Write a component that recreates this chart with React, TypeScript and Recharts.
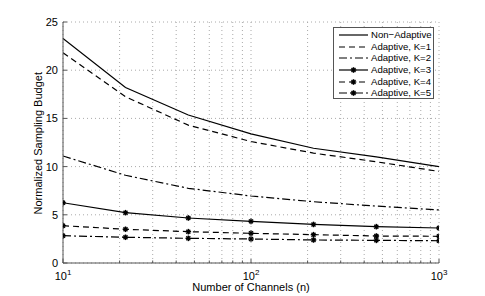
import React from "react";
import { CartesianGrid, Line, LineChart, XAxis, YAxis } from "recharts";

const channels = [10, 21.5, 46.4, 100, 215, 464, 1000];
const nonAdaptive = [23.3, 18.2, 15.35, 13.4, 11.9, 11.0, 10.0];
const adaptiveK1 = [21.8, 17.25, 14.3, 12.6, 11.4, 10.5, 9.5];
const adaptiveK2 = [11.1, 9.1, 7.75, 6.95, 6.36, 5.9, 5.5];
const adaptiveK3 = [6.25, 5.22, 4.67, 4.32, 4.0, 3.77, 3.63];
const adaptiveK4 = [3.87, 3.5, 3.25, 3.08, 2.94, 2.8, 2.77];
const adaptiveK5 = [2.83, 2.67, 2.56, 2.49, 2.39, 2.35, 2.31];

const xTicks = [10, 20, 30, 40, 50, 60, 70, 80, 90, 100, 200, 300, 400, 500, 600, 700, 800, 900, 1000];
const yTicks = [0, 5, 10, 15, 20, 25];

const data = channels.map((n, i) => ({
    n,
    na: nonAdaptive[i],
    k1: adaptiveK1[i],
    k2: adaptiveK2[i],
    k3: adaptiveK3[i],
    k4: adaptiveK4[i],
    k5: adaptiveK5[i],
}));

const series = [
    { key: "na", name: "Non\u2212Adaptive", dash: undefined as string | undefined, marker: false },
    { key: "k1", name: "Adaptive, K=1", dash: "6 4", marker: false },
    { key: "k2", name: "Adaptive, K=2", dash: "8 3 2 3", marker: false },
    { key: "k3", name: "Adaptive, K=3", dash: undefined, marker: true },
    { key: "k4", name: "Adaptive, K=4", dash: "6 4", marker: true },
    { key: "k5", name: "Adaptive, K=5", dash: "8 3 2 3", marker: true },
];

const FONT = "'Liberation Sans', Arial, sans-serif";
const AXIS = "#555";

function Star({ cx, cy }: { cx?: number; cy?: number }) {
    if (cx == null || cy == null) return null;
    const r = 2.8;
    const d = r * 0.707;
    return (
        <g stroke="#000" strokeWidth={1.4}>
            <line x1={cx - r} y1={cy} x2={cx + r} y2={cy} />
            <line x1={cx} y1={cy - r} x2={cx} y2={cy + r} />
            <line x1={cx - d} y1={cy - d} x2={cx + d} y2={cy + d} />
            <line x1={cx - d} y1={cy + d} x2={cx + d} y2={cy - d} />
        </g>
    );
}

const MARGIN_X = 6;
function XTick(props: any) {
    const { x, y, payload } = props;
    const v = payload.value;
    const major = v === 10 || v === 100 || v === 1000;
    const ay = y - MARGIN_X;
    const exp = Math.round(Math.log10(v));
    return (
        <g>
            <line x1={x} y1={ay} x2={x} y2={ay - (major ? 4 : 2.5)} stroke={AXIS} />
            {major && (
                <text x={x} y={ay + 17} textAnchor="middle" fontFamily={FONT} fontSize={11} fill="#000">
                    10<tspan dy={-5} fontSize={8}>{exp}</tspan>
                </text>
            )}
        </g>
    );
}

function XTopTick(props: any) {
    const { x, y, payload } = props;
    const v = payload.value;
    const major = v === 10 || v === 100 || v === 1000;
    return <line x1={x} y1={y} x2={x} y2={y + (major ? 4 : 2.5)} stroke={AXIS} />;
}

function YTick(props: any) {
    const { x, y, payload } = props;
    const ax = x + MARGIN_X;
    return (
        <g>
            <line x1={ax} y1={y} x2={ax + 4} y2={y} stroke={AXIS} />
            <text x={ax - 5} y={y + 4} textAnchor="end" fontFamily={FONT} fontSize={11} fill="#000">
                {payload.value}
            </text>
        </g>
    );
}

function YRightTick(props: any) {
    const { x, y } = props;
    return <line x1={x} y1={y} x2={x - 4} y2={y} stroke={AXIS} />;
}

// legend sits inside the plot, top right, like the matlab box
function LegendBox() {
    return (
        <div
            style={{
                position: "absolute",
                left: 333,
                top: 27,
                width: 101,
                height: 72,
                border: `1px solid ${AXIS}`,
                background: "#fff",
                boxSizing: "border-box",
                paddingTop: 1,
            }}
        >
            {series.map((s) => (
                <div key={s.key} style={{ display: "flex", alignItems: "center", height: 11.7, whiteSpace: "nowrap" }}>
                    <svg width={37} height={10} style={{ flex: "none" }}>
                        <line x1={5} y1={5} x2={34} y2={5} stroke="#000" strokeWidth={1.2} strokeDasharray={s.dash} />
                        {s.marker && <Star cx={19.5} cy={5} />}
                    </svg>
                    <span style={{ fontFamily: FONT, fontSize: 9.6, color: "#000", lineHeight: "10px" }}>{s.name}</span>
                </div>
            ))}
        </div>
    );
}

export default function App() {
    return (
        <div style={{ position: "absolute", left: 0, top: 0, width: 485, height: 296, background: "#fff" }}>
            <LineChart width={485} height={296} data={data} margin={{ top: 22, right: 46, bottom: 0, left: 0 }}>
                <CartesianGrid stroke="#aaa" strokeDasharray="1 3" />
                <XAxis
                    dataKey="n"
                    type="number"
                    scale="log"
                    domain={[10, 1000]}
                    ticks={xTicks}
                    interval={0}
                    height={33}
                    tickSize={0}
                    tickMargin={MARGIN_X}
                    tick={<XTick />}
                    axisLine={{ stroke: AXIS }}
                    allowDataOverflow
                    label={{ value: "Number of Channels (n)", position: "insideBottom", offset: 5, fontFamily: FONT, fontSize: 11, fill: "#000" }}
                />
                <XAxis
                    xAxisId="top"
                    orientation="top"
                    dataKey="n"
                    type="number"
                    scale="log"
                    domain={[10, 1000]}
                    ticks={xTicks}
                    interval={0}
                    height={0}
                    tickSize={0}
                    tickMargin={0}
                    tick={<XTopTick />}
                    axisLine={{ stroke: AXIS }}
                    allowDataOverflow
                />
                <YAxis
                    type="number"
                    domain={[0, 25]}
                    ticks={yTicks}
                    width={63}
                    tickSize={0}
                    tickMargin={MARGIN_X}
                    tick={<YTick />}
                    axisLine={{ stroke: AXIS }}
                    label={{ value: "Normalized Sampling Budget", angle: -90, position: "insideLeft", offset: 38, dy: 72, fontFamily: FONT, fontSize: 11, fill: "#000" }}
                />
                <YAxis
                    yAxisId="right"
                    orientation="right"
                    type="number"
                    domain={[0, 25]}
                    ticks={yTicks}
                    width={0}
                    tickSize={0}
                    tickMargin={0}
                    tick={<YRightTick />}
                    axisLine={{ stroke: AXIS }}
                />
                {series.map((s) => (
                    <Line
                        key={s.key}
                        dataKey={s.key}
                        name={s.name}
                        type="linear"
                        stroke="#000"
                        strokeWidth={1.2}
                        strokeDasharray={s.dash}
                        dot={s.marker ? <Star /> : false}
                        activeDot={false}
                        isAnimationActive={false}
                    />
                ))}
            </LineChart>
            <LegendBox />
        </div>
    );
}
